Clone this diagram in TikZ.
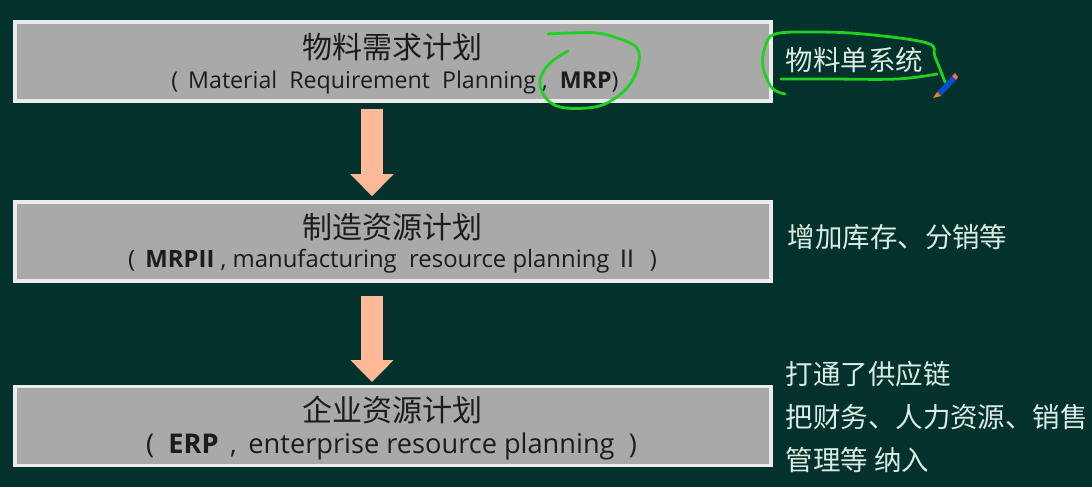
\documentclass[tikz,border=0pt]{standalone}
\usepackage{fontspec}
\usepackage{tikz}
\usetikzlibrary{arrows.meta}
\setmainfont{Open Sans}
\newfontfamily\cjk{Noto Sans CJK SC}
\definecolor{board}{HTML}{03312B}
\definecolor{boxgray}{HTML}{A9A9A9}
\definecolor{boxtext}{HTML}{1C1C1C}
\definecolor{sidetext}{HTML}{DDEBE6}
\definecolor{peach}{HTML}{FFB999}
\definecolor{inkgreen}{HTML}{1FD21F}
\tikzset{
  planbox/.style={draw=white!92!black,line width=2.6pt,fill=boxgray,minimum width=567pt,minimum height=59pt,inner sep=0pt},
  titletext/.style={text=boxtext,font=\cjk\fontsize{22.5}{24}\selectfont},
  subtext/.style={text=boxtext},
  sidenote/.style={anchor=west,text=sidetext,font=\cjk\fontsize{20.6}{24}\selectfont},
  stagearrow/.style={draw=peach,line width=15.8pt,-{Triangle[length=16.5pt,width=31.5pt]}},
  inkline/.style={draw=inkgreen,line width=2.1pt,line cap=round,line join=round}
}
\begin{document}
\begin{tikzpicture}[x=0.75pt,y=-0.75pt]
        \useasboundingbox[fill=board] (0,0) rectangle (1092,487);

        \node[planbox] (mrp) at (393,61.5) {};
        \node[planbox] (mrpii) at (393,241.5) {};
        \node[planbox] (erp) at (393,426) {};

        \node[titletext] (mrptitle) at (392,47) {物料需求计划};
        \node[subtext,font=\fontsize{17.4}{20}\selectfont] (mrpsub) at (395,82) {(\ \,Material\ \ Requirement\ \ Planning\ ,\ \ \textbf{MRP})};
        \node[titletext] (mrpiititle) at (392,227) {制造资源计划};
        \node[subtext,font=\fontsize{17.9}{20}\selectfont] (mrpiisub) at (392.5,261) {(\ \,\textbf{MRPII}\ ,\ manufacturing\ \ resource\ planning\ {\cjk Ⅱ}\ \,)};
        \node[titletext] (erptitle) at (392,410) {企业资源计划};
        \node[subtext,font=\fontsize{20.4}{22}\selectfont] (erpsub) at (391.5,446) {(\ \ \textbf{ERP}\ \,,\ \,enterprise\ resource\ planning\ \ )};

        \draw[stagearrow,shorten <=4.7pt,shorten >=3.2pt] ([xshift=-15.75pt]mrp.south) -- ([xshift=-15.75pt]mrpii.north);
        \draw[stagearrow,shorten <=10.4pt,shorten >=2.2pt] ([xshift=-15.75pt]mrpii.south) -- ([xshift=-15.75pt]erp.north);

        \node[sidenote] (bomnote) at (781,60) {物料单系统};
        \node[sidenote] (stocknote) at (783,237) {增加库存、分销等};
        \node[sidenote] (chainnote) at (781,374) {打通了供应链};
        \node[sidenote] (financenote) at (781,417) {把财务、人力资源、销售};
        \node[sidenote] (mgmtnote) at (781,460) {管理等 纳入};

        % pen marks
        \draw[inkline] plot[smooth,tension=0.6] coordinates {(548,34) (570,33) (597,33) (617,38) (637,48) (638,67) (627,88) (607,103) (587,108) (560,107) (545,97) (540,80) (550,63) (568,51)};
        \draw[inkline] plot[smooth,tension=0.6] coordinates {(785,94) (772,88) (763,67) (765,47) (775,34) (813,32) (863,34) (927,43) (935,57) (945,82)};
        \draw[inkline] plot[smooth,tension=0.6] coordinates {(781,79) (830,79) (897,79) (937,74)};

        % pencil
        \fill[blue!60!cyan!80!black] (937,92) -- (952,76) -- (956,80) -- (941,96) -- cycle;
        \fill[orange!80!brown] (937,92) -- (941,96) -- (933,98) -- cycle;
        \fill[red!60!white] (952,76) -- (955,73) -- (958,77) -- (956,80) -- cycle;
    \end{tikzpicture}
\end{document}
